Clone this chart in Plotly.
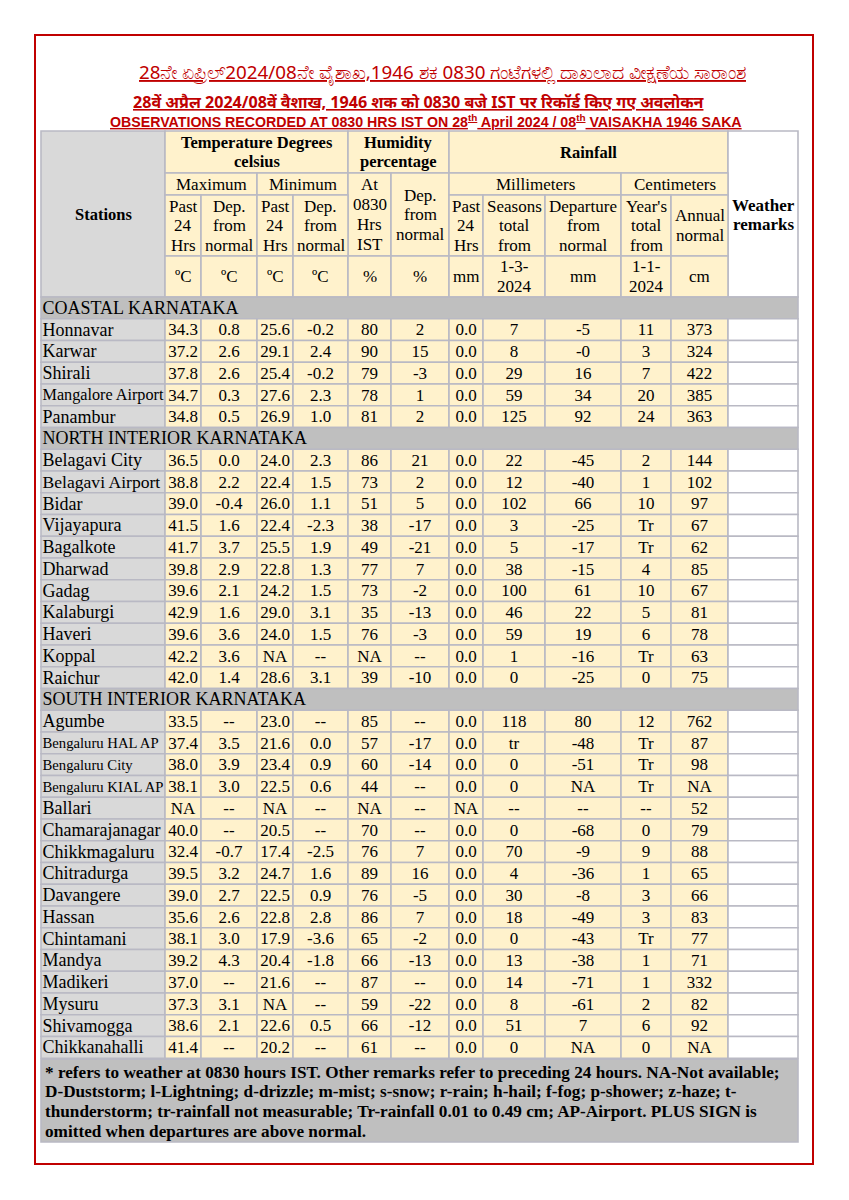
import plotly.graph_objects as go

# ---------------- DATA ----------------
title_kn = "28ನೇ ಏಪ್ರಿಲ್2024/08ನೇ ವೈಶಾಖ,1946 ಶಕ 0830 ಗಂಟೆಗಳಲ್ಲಿ ದಾಖಲಾದ ವೀಕ್ಷಣೆಯ ಸಾರಾಂಶ"
title_hi = "28वें अप्रैल 2024/08वें वैशाख, 1946 शक को 0830 बजे IST पर रिकॉर्ड किए गए अवलोकन"
title_en = "OBSERVATIONS RECORDED AT 0830 HRS IST ON 28<sup>th</sup> April 2024 / 08<sup>th</sup> VAISAKHA 1946 SAKA"

regions = ["COASTAL KARNATAKA", "NORTH INTERIOR KARNATAKA", "SOUTH INTERIOR KARNATAKA"]
stations_coastal = ["Honnavar", "Karwar", "Shirali", "Mangalore Airport", "Panambur"]
stations_north = ["Belagavi City", "Belagavi Airport", "Bidar", "Vijayapura", "Bagalkote", "Dharwad",
                  "Gadag", "Kalaburgi", "Haveri", "Koppal", "Raichur"]
stations_south = ["Agumbe", "Bengaluru HAL AP", "Bengaluru City", "Bengaluru KIAL AP", "Ballari",
                  "Chamarajanagar", "Chikkmagaluru", "Chitradurga", "Davangere", "Hassan", "Chintamani",
                  "Mandya", "Madikeri", "Mysuru", "Shivamogga", "Chikkanahalli"]

max_past24 = ["34.3", "37.2", "37.8", "34.7", "34.8",
              "36.5", "38.8", "39.0", "41.5", "41.7", "39.8", "39.6", "42.9", "39.6", "42.2", "42.0",
              "33.5", "37.4", "38.0", "38.1", "NA", "40.0", "32.4", "39.5", "39.0", "35.6", "38.1", "39.2", "37.0", "37.3", "38.6", "41.4"]
max_dep = ["0.8", "2.6", "2.6", "0.3", "0.5",
           "0.0", "2.2", "-0.4", "1.6", "3.7", "2.9", "2.1", "1.6", "3.6", "3.6", "1.4",
           "--", "3.5", "3.9", "3.0", "--", "--", "-0.7", "3.2", "2.7", "2.6", "3.0", "4.3", "--", "3.1", "2.1", "--"]
min_past24 = ["25.6", "29.1", "25.4", "27.6", "26.9",
              "24.0", "22.4", "26.0", "22.4", "25.5", "22.8", "24.2", "29.0", "24.0", "NA", "28.6",
              "23.0", "21.6", "23.4", "22.5", "NA", "20.5", "17.4", "24.7", "22.5", "22.8", "17.9", "20.4", "21.6", "NA", "22.6", "20.2"]
min_dep = ["-0.2", "2.4", "-0.2", "2.3", "1.0",
           "2.3", "1.5", "1.1", "-2.3", "1.9", "1.3", "1.5", "3.1", "1.5", "--", "3.1",
           "--", "0.0", "0.9", "0.6", "--", "--", "-2.5", "1.6", "0.9", "2.8", "-3.6", "-1.8", "--", "--", "0.5", "--"]
humidity = ["80", "90", "79", "78", "81",
            "86", "73", "51", "38", "49", "77", "73", "35", "76", "NA", "39",
            "85", "57", "60", "44", "NA", "70", "76", "89", "76", "86", "65", "66", "87", "59", "66", "61"]
humidity_dep = ["2", "15", "-3", "1", "2",
                "21", "2", "5", "-17", "-21", "7", "-2", "-13", "-3", "--", "-10",
                "--", "-17", "-14", "--", "--", "--", "7", "16", "-5", "7", "-2", "-13", "--", "-22", "-12", "--"]
rain_past24 = ["0.0", "0.0", "0.0", "0.0", "0.0",
               "0.0", "0.0", "0.0", "0.0", "0.0", "0.0", "0.0", "0.0", "0.0", "0.0", "0.0",
               "0.0", "0.0", "0.0", "0.0", "NA", "0.0", "0.0", "0.0", "0.0", "0.0", "0.0", "0.0", "0.0", "0.0", "0.0", "0.0"]
season_total = ["7", "8", "29", "59", "125",
                "22", "12", "102", "3", "5", "38", "100", "46", "59", "1", "0",
                "118", "tr", "0", "0", "--", "0", "70", "4", "30", "18", "0", "13", "14", "8", "51", "0"]
season_dep = ["-5", "-0", "16", "34", "92",
              "-45", "-40", "66", "-25", "-17", "-15", "61", "22", "19", "-16", "-25",
              "80", "-48", "-51", "NA", "--", "-68", "-9", "-36", "-8", "-49", "-43", "-38", "-71", "-61", "7", "NA"]
year_total = ["11", "3", "7", "20", "24",
              "2", "1", "10", "Tr", "Tr", "4", "10", "5", "6", "Tr", "0",
              "12", "Tr", "Tr", "Tr", "--", "0", "9", "1", "3", "3", "Tr", "1", "1", "2", "6", "0"]
annual_normal = ["373", "324", "422", "385", "363",
                 "144", "102", "97", "67", "62", "85", "67", "81", "78", "63", "75",
                 "762", "87", "98", "NA", "52", "79", "88", "65", "66", "83", "77", "71", "332", "82", "92", "NA"]

footer_lines = [
    "* refers to weather at 0830 hours IST. Other remarks refer to preceding 24 hours. NA-Not available;",
    "D-Duststorm; l-Lightning; d-drizzle; m-mist; s-snow; r-rain; h-hail; f-fog; p-shower; z-haze; t-",
    "thunderstorm; tr-rainfall not measurable; Tr-rainfall 0.01 to 0.49 cm; AP-Airport. PLUS SIGN is",
    "omitted when departures are above normal.",
]

# ---------------- LAYOUT / STYLE ----------------
W, H = 849, 1200
PAGE_OFF = 8  # browser default body margin
SERIF = "Liberation Serif, Times New Roman, serif"
SANS = "Liberation Sans, Arial, sans-serif"
CREAM = "#fff2cc"
GRAY = "#d9d9d9"
SEC = "#bfbfbf"
WHITE = "#ffffff"
LINE = "#b9b9c4"
RED = "#c00000"

col_edges = [41, 165, 201, 257, 293, 348, 391, 449, 483, 545, 621, 671, 728, 798]
hdr_edges = [131, 173, 195, 256, 297]
body_top = 297
row_h = 21.75
text_dy = 1.5
name_default = 18
name_size = {"Mangalore Airport": 16.2, "Bengaluru HAL AP": 14.7, "Bengaluru City": 14.7,
             "Bengaluru KIAL AP": 14.7, "Belagavi Airport": 17.6}

shapes = []
annotations = []


def cell(x0, x1, y0, y1, fill, lw=1.6):
    shapes.append(dict(type="rect", xref="x", yref="y", x0=x0, x1=x1, y0=y0, y1=y1,
                       fillcolor=fill, line=dict(color=LINE, width=lw), layer="below"))


def label(lines, xc, yc, size=17, bold=False, lh=19.5, family=SERIF, color="black",
          xanchor="center", under=False):
    n = len(lines)
    for i, t in enumerate(lines):
        y = yc + (i - (n - 1) / 2) * lh
        f = dict(family=family, size=size, color=color)
        if bold:
            f["weight"] = "bold"
        if under:
            f["lineposition"] = "under"
        annotations.append(dict(x=xc, y=y, xref="x", yref="y", text=t, showarrow=False,
                                xanchor=xanchor, yanchor="middle", font=f))


def cx(i, j=None):
    j = i if j is None else j
    return (col_edges[i] + col_edges[j + 1]) / 2


def cy(i, j=None):
    j = i if j is None else j
    return (hdr_edges[i] + hdr_edges[j + 1]) / 2


# outer red frame
shapes.append(dict(type="rect", xref="x", yref="y", x0=35, x1=813, y0=35, y1=1164,
                   line=dict(color=RED, width=2), fillcolor="rgba(0,0,0,0)", layer="below"))

# titles
label([title_kn], 442, 72, size=18.8, color=RED, family="Noto Sans, sans-serif", under=True)
label([title_hi], 419, 102, size=16.1, bold=True, color=RED, family="Noto Sans, sans-serif", under=True)
label([title_en], 426, 121, size=14.2, bold=True, color=RED, family=SANS, under=True)

# ---------------- HEADER ----------------
E = col_edges
R = hdr_edges
header_cells = [
    # (c0, c1, r0, r1, fill, lines, bold)
    (0, 0, 0, 3, GRAY, ["Stations"], True),
    (1, 4, 0, 0, CREAM, ["Temperature Degrees", "celsius"], True),
    (5, 6, 0, 0, CREAM, ["Humidity", "percentage"], True),
    (7, 11, 0, 0, CREAM, ["Rainfall"], True),
    (12, 12, 0, 3, WHITE, ["Weather", "remarks"], True),
    (1, 2, 1, 1, CREAM, ["Maximum"], False),
    (3, 4, 1, 1, CREAM, ["Minimum"], False),
    (5, 5, 1, 2, CREAM, ["At", "0830", "Hrs", "IST"], False),
    (6, 6, 1, 2, CREAM, ["Dep.", "from", "normal"], False),
    (7, 9, 1, 1, CREAM, ["Millimeters"], False),
    (10, 11, 1, 1, CREAM, ["Centimeters"], False),
    (1, 1, 2, 2, CREAM, ["Past", "24", "Hrs"], False),
    (2, 2, 2, 2, CREAM, ["Dep.", "from", "normal"], False),
    (3, 3, 2, 2, CREAM, ["Past", "24", "Hrs"], False),
    (4, 4, 2, 2, CREAM, ["Dep.", "from", "normal"], False),
    (7, 7, 2, 2, CREAM, ["Past", "24", "Hrs"], False),
    (8, 8, 2, 2, CREAM, ["Seasons", "total", "from"], False),
    (9, 9, 2, 2, CREAM, ["Departure", "from", "normal"], False),
    (10, 10, 2, 2, CREAM, ["Year's", "total", "from"], False),
    (11, 11, 2, 2, CREAM, ["Annual", "normal"], False),
    (1, 1, 3, 3, CREAM, ["ºC"], False),
    (2, 2, 3, 3, CREAM, ["ºC"], False),
    (3, 3, 3, 3, CREAM, ["ºC"], False),
    (4, 4, 3, 3, CREAM, ["ºC"], False),
    (5, 5, 3, 3, CREAM, ["%"], False),
    (6, 6, 3, 3, CREAM, ["%"], False),
    (7, 7, 3, 3, CREAM, ["mm"], False),
    (8, 8, 3, 3, CREAM, ["1-3-", "2024"], False),
    (9, 9, 3, 3, CREAM, ["mm"], False),
    (10, 10, 3, 3, CREAM, ["1-1-", "2024"], False),
    (11, 11, 3, 3, CREAM, ["cm"], False),
]
for c0, c1, r0, r1, fill, lines, bold in header_cells:
    cell(E[c0], E[c1 + 1], R[r0], R[r1 + 1], fill)
    lh = 19.5 if len(lines) < 4 else 20
    yc = cy(r0, r1)
    size = 16.5 if bold else 17
    if lines == ["Weather", "remarks"]:
        yc = 215
        size = 17
    label(lines, cx(c0, c1), yc, size=size, bold=bold, lh=lh)

# ---------------- BODY ----------------
groups = [stations_coastal, stations_north, stations_south]
columns = [max_past24, max_dep, min_past24, min_dep, humidity, humidity_dep, rain_past24,
           season_total, season_dep, year_total, annual_normal]

row = 0
sec_y, st_y, st_names = [], [], []
for reg, sts in zip(regions, groups):
    y0 = body_top + row * row_h
    cell(E[0], E[-1], y0, y0 + row_h, SEC)
    sec_y.append(y0 + row_h / 2 + text_dy)
    row += 1
    for s in sts:
        y0 = body_top + row * row_h
        for c in range(13):
            fill = GRAY if c == 0 else (WHITE if c == 12 else CREAM)
            cell(E[c], E[c + 1], y0, y0 + row_h, fill)
        st_y.append(y0 + row_h / 2 + text_dy)
        st_names.append(s)
        row += 1

body_bottom = body_top + row * row_h

traces = []
traces.append(go.Scatter(x=[E[0] + 1.5] * len(regions), y=sec_y, text=regions, mode="text",
                         textposition="middle right",
                         textfont=dict(family=SERIF, size=18, color="black"), hoverinfo="skip"))
traces.append(go.Scatter(x=[E[0] + 1.5] * len(st_names), y=st_y, text=st_names, mode="text",
                         textposition="middle right",
                         textfont=dict(family=SERIF, size=[name_size.get(s, name_default) for s in st_names],
                                       color="black"), hoverinfo="skip"))
for j, vals in enumerate(columns):
    traces.append(go.Scatter(x=[cx(j + 1)] * len(vals), y=st_y, text=vals, mode="text",
                             textposition="middle center",
                             textfont=dict(family=SERIF, size=17, color="black"), hoverinfo="skip"))

# ---------------- FOOTER ----------------
cell(E[0], E[-1], body_bottom + 1, 1142, SEC)
for i, t in enumerate(footer_lines):
    label([t], E[0] + 2, 1072 + i * 19.8, size=17.2, bold=True, xanchor="left")

fig = go.Figure(traces)
fig.update_layout(
    width=W - PAGE_OFF, height=H - PAGE_OFF, margin=dict(l=0, r=0, t=0, b=0),
    paper_bgcolor="white", plot_bgcolor="white", showlegend=False,
    xaxis=dict(range=[PAGE_OFF, W], visible=False, fixedrange=True),
    yaxis=dict(range=[H, PAGE_OFF], visible=False, fixedrange=True),
    shapes=shapes, annotations=annotations,
)
fig.write_html("out.html")
